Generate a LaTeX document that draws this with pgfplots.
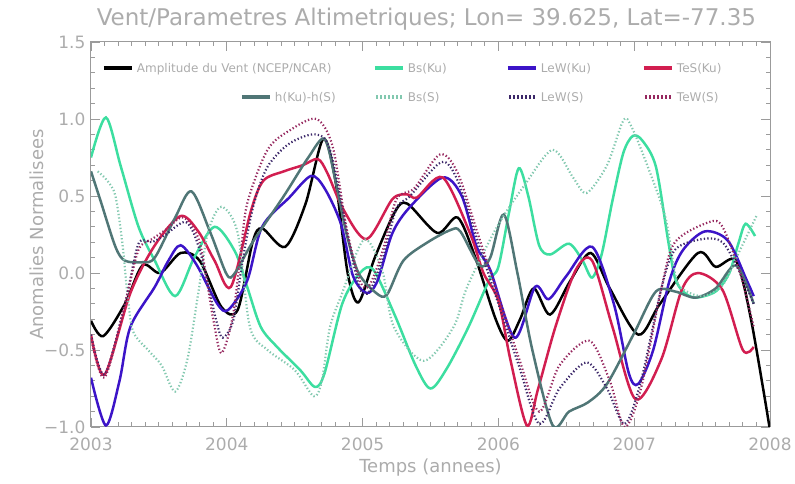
\documentclass[border=0pt]{standalone}
\usepackage{pgfplots}
\pgfplotsset{compat=1.18}
\usepackage{fontspec}
\setmainfont{DejaVu Sans}
\definecolor{bsku}{RGB}{60,222,160}
\definecolor{leku}{RGB}{60,20,200}
\definecolor{tesku}{RGB}{210,30,80}
\definecolor{hcol}{RGB}{80,118,118}
\definecolor{bss}{RGB}{130,200,175}
\definecolor{lews}{RGB}{60,40,105}
\definecolor{tews}{RGB}{150,40,95}
\definecolor{textgray}{RGB}{172,172,172}
\definecolor{axisgray}{RGB}{155,155,155}
\newcommand{\lstrut}{\rule[-4pt]{0pt}{14pt}}
\newcommand{\solidkey}[1]{\textcolor{#1}{\rule[2.5pt]{28pt}{3.5pt}}}
\newcommand{\dotkey}[1]{\textcolor{#1}{\hbox to 28pt{\leaders\hbox to 4pt{\hss\rule[2.5pt]{2pt}{3.5pt}\hss}\hfill}}}
\begin{document}
\begin{tikzpicture}
\useasboundingbox (-91pt,-57pt) rectangle (704pt,427pt);
\begin{axis}[
  scale only axis, width=679pt, height=385pt,
  xmin=0, xmax=5, ymin=-1, ymax=1.5,
  xtick={0,1,2,3,4,5}, xticklabels={2003,2004,2005,2006,2007,2008},
  ytick={-1,-0.5,0,0.5,1,1.5}, yticklabels={−1.0,−0.5,0.0,0.5,1.0,1.5},
  minor x tick num=9, minor y tick num=4,
  tick align=inside, major tick length=9pt, minor tick length=4.5pt,
  axis line style={axisgray, line width=1pt},
  tick style={axisgray, line width=0.8pt},
  ticklabel style={font=\fontsize{17}{17}\selectfont, text=textgray},
  xticklabel style={yshift=-7pt},
  yticklabel style={xshift=-2pt},
  xlabel={Temps (annees)}, ylabel={Anomalies Normalisees},
  label style={font=\fontsize{18}{18}\selectfont, text=textgray},
  xlabel style={at={(axis description cs:0.5,-0.106)}, anchor=center},
  ylabel style={at={(axis description cs:-0.0795,0.5)}, anchor=center},
  title={Vent/Parametres Altimetriques; Lon= 39.625, Lat=-77.35},
  title style={at={(axis description cs:0.494,1.044)}, anchor=center, font=\fontsize{23}{23}\selectfont, text=textgray},
  legend columns=4,
  every axis plot/.append style={legend image code/.code={}},
  legend style={at={(rel axis cs:0.0191,0.948)}, anchor=north west, draw=none, fill=none,
    inner sep=0pt, outer sep=0pt, row sep=15pt, column sep=0pt,
    nodes={inner sep=0pt, outer sep=0pt, text depth={}, font=\fontsize{12}{14}\selectfont, text=textgray},
    cells={anchor=west}},
  solidl/.style={line width=2.5pt, smooth},
  dotl/.style={line width=2.2pt, smooth, dash pattern=on 1.3pt off 2.2pt},
]
% Amplitude du Vent
\addplot[solidl, black] coordinates {(0.00,-0.31) (0.09,-0.41) (0.25,-0.2) (0.38,0.05) (0.51,0.0) (0.66,0.13) (0.80,0.08) (0.96,-0.22) (1.08,-0.24) (1.19,0.2) (1.26,0.29) (1.43,0.17) (1.58,0.45) (1.71,0.87) (1.80,0.6) (1.89,0.0) (1.97,-0.19) (2.09,0.1) (2.24,0.4) (2.33,0.45) (2.55,0.26) (2.70,0.36) (2.83,0.1) (2.98,-0.3) (3.07,-0.44) (3.16,-0.3) (3.26,-0.1) (3.38,-0.27) (3.53,-0.05) (3.68,0.13) (3.82,-0.1) (4.03,-0.40) (4.19,-0.2) (4.47,0.13) (4.60,0.04) (4.75,0.08) (4.86,-0.3) (5.00,-1.02)};
\addlegendentry{\makebox[271pt][l]{\lstrut\solidkey{black}\hspace{5pt}Amplitude du Vent (NCEP/NCAR)}}
% Bs(Ku)
\addplot[solidl, bsku] coordinates {(0.00,0.75) (0.11,1.01) (0.22,0.69) (0.35,0.30) (0.47,0.08) (0.62,-0.15) (0.76,0.10) (0.91,0.30) (1.06,0.14) (1.15,-0.09) (1.25,-0.35) (1.37,-0.48) (1.54,-0.63) (1.65,-0.74) (1.72,-0.65) (1.85,-0.2) (1.98,0.0) (2.08,0.02) (2.24,-0.28) (2.39,-0.6) (2.50,-0.75) (2.62,-0.62) (2.78,-0.35) (2.93,-0.05) (3.00,0.04) (3.08,0.40) (3.15,0.68) (3.22,0.50) (3.30,0.18) (3.38,0.12) (3.52,0.19) (3.62,0.08) (3.69,-0.03) (3.76,0.12) (3.84,0.47) (3.92,0.78) (3.99,0.89) (4.06,0.86) (4.16,0.69) (4.25,0.21) (4.30,-0.03) (4.36,-0.12) (4.45,-0.16) (4.60,-0.12) (4.70,0.0) (4.77,0.2) (4.82,0.32) (4.89,0.24)};
\addlegendentry{\makebox[133pt][l]{\lstrut\solidkey{bsku}\hspace{5pt}Bs(Ku)}}
% LeW(Ku)
\addplot[solidl, leku] coordinates {(0.00,-0.68) (0.11,-0.99) (0.21,-0.7) (0.29,-0.35) (0.47,-0.09) (0.57,0.08) (0.66,0.18) (0.78,0.05) (0.93,-0.2) (1.01,-0.24) (1.15,-0.05) (1.26,0.3) (1.46,0.49) (1.62,0.63) (1.72,0.55) (1.84,0.32) (1.93,-0.02) (2.03,-0.13) (2.11,-0.05) (2.22,0.26) (2.35,0.43) (2.59,0.62) (2.73,0.5) (2.84,0.17) (2.94,0.02) (3.12,-0.42) (3.27,-0.09) (3.37,-0.17) (3.50,-0.02) (3.69,0.17) (3.85,-0.2) (3.96,-0.65) (4.03,-0.72) (4.14,-0.5) (4.26,-0.05) (4.36,0.15) (4.52,0.27) (4.69,0.21) (4.83,-0.05) (4.88,-0.15)};
\addlegendentry{\makebox[136pt][l]{\lstrut\solidkey{leku}\hspace{5pt}LeW(Ku)}}
% TeS(Ku)
\addplot[solidl, tesku] coordinates {(0.00,-0.40) (0.10,-0.66) (0.29,-0.13) (0.47,0.18) (0.66,0.37) (0.79,0.27) (0.91,0.08) (1.03,-0.09) (1.18,0.41) (1.27,0.60) (1.42,0.66) (1.56,0.70) (1.67,0.74) (1.74,0.65) (1.86,0.41) (2.03,0.22) (2.22,0.48) (2.33,0.51) (2.40,0.49) (2.59,0.62) (2.79,0.26) (2.89,0.0) (3.00,-0.18) (3.09,-0.57) (3.21,-0.99) (3.29,-0.76) (3.42,-0.35) (3.57,0.02) (3.69,0.08) (3.84,-0.35) (4.01,-0.82) (4.20,-0.56) (4.35,-0.11) (4.47,0.0) (4.65,-0.11) (4.80,-0.5) (4.88,-0.48)};
\addlegendentry{\makebox[90pt][l]{\lstrut\solidkey{tesku}\hspace{5pt}TeS(Ku)}}
% h(Ku)-h(S)
\addplot[solidl, hcol] coordinates {(0.00,0.66) (0.07,0.47) (0.18,0.17) (0.25,0.08) (0.38,0.07) (0.47,0.1) (0.62,0.36) (0.74,0.53) (0.88,0.26) (1.00,-0.01) (1.06,0.0) (1.19,0.2) (1.42,0.5) (1.60,0.75) (1.72,0.87) (1.80,0.6) (1.88,0.26) (1.97,0.0) (2.10,-0.13) (2.18,-0.14) (2.30,0.08) (2.48,0.2) (2.65,0.28) (2.72,0.27) (2.86,0.05) (2.94,0.1) (3.04,0.38) (3.14,0.0) (3.25,-0.5) (3.40,-0.99) (3.52,-0.9) (3.66,-0.84) (3.80,-0.72) (4.00,-0.39) (4.16,-0.12) (4.30,-0.12) (4.45,-0.16) (4.60,-0.1) (4.75,0.05) (4.88,-0.2)};
\addlegendentry{\makebox[271pt][l]{\lstrut\hspace{138pt}\solidkey{hcol}\hspace{5pt}h(Ku)-h(S)}}
% Bs(S)
\addplot[dotl, bss] coordinates {(0.05,0.66) (0.12,0.6) (0.18,0.5) (0.23,0.2) (0.27,-0.15) (0.31,-0.38) (0.42,-0.5) (0.52,-0.6) (0.62,-0.77) (0.71,-0.56) (0.79,-0.13) (0.86,0.26) (0.96,0.43) (1.08,0.26) (1.17,-0.35) (1.30,-0.5) (1.50,-0.63) (1.64,-0.8) (1.70,-0.7) (1.76,-0.35) (1.85,-0.13) (1.98,0.18) (2.05,0.2) (2.15,0.0) (2.23,-0.35) (2.45,-0.57) (2.67,-0.35) (2.77,-0.09) (2.99,0.30) (3.20,0.58) (3.40,0.80) (3.55,0.62) (3.65,0.52) (3.80,0.7) (3.92,0.99) (3.98,0.95) (4.10,0.69) (4.23,0.36) (4.30,0.0) (4.35,-0.1) (4.50,-0.15) (4.65,-0.08) (4.78,0.15) (4.90,0.37)};
\addlegendentry{\makebox[133pt][l]{\lstrut\dotkey{bss}\hspace{5pt}Bs(S)}}
% LeW(S)
\addplot[dotl, lews] coordinates {(0.00,-0.40) (0.10,-0.66) (0.25,-0.2) (0.35,0.19) (0.45,0.2) (0.55,0.25) (0.70,0.33) (0.80,0.15) (0.92,-0.3) (0.97,-0.42) (1.05,-0.3) (1.12,0.1) (1.20,0.45) (1.30,0.69) (1.46,0.84) (1.65,0.9) (1.76,0.8) (1.90,0.2) (1.98,-0.1) (2.05,-0.12) (2.15,0.1) (2.25,0.42) (2.35,0.5) (2.58,0.72) (2.70,0.6) (2.85,0.2) (3.00,-0.2) (3.15,-0.6) (3.30,-0.98) (3.45,-0.75) (3.65,-0.58) (3.80,-0.75) (3.93,-0.98) (4.05,-0.7) (4.20,-0.1) (4.30,0.15) (4.50,0.22) (4.65,0.2) (4.78,0.0) (4.88,-0.2)};
\addlegendentry{\makebox[136pt][l]{\lstrut\dotkey{lews}\hspace{5pt}LeW(S)}}
% TeW(S)
\addplot[dotl, tews] coordinates {(0.00,-0.42) (0.10,-0.68) (0.25,-0.2) (0.35,0.15) (0.45,0.22) (0.55,0.28) (0.68,0.36) (0.80,0.2) (0.90,-0.3) (0.96,-0.52) (1.04,-0.3) (1.10,0.1) (1.15,0.45) (1.30,0.8) (1.47,0.93) (1.66,1.0) (1.78,0.82) (1.88,0.3) (1.98,-0.05) (2.05,-0.08) (2.15,0.15) (2.25,0.48) (2.38,0.55) (2.57,0.77) (2.70,0.65) (2.85,0.25) (3.00,-0.15) (3.15,-0.55) (3.30,-0.9) (3.45,-0.6) (3.67,-0.44) (3.82,-0.7) (3.93,-1.0) (4.05,-0.75) (4.20,-0.1) (4.30,0.2) (4.55,0.33) (4.65,0.3) (4.78,0.0) (4.88,-0.35)};
\addlegendentry{\makebox[90pt][l]{\lstrut\dotkey{tews}\hspace{5pt}TeW(S)}}
\end{axis}
\end{tikzpicture}
\end{document}
